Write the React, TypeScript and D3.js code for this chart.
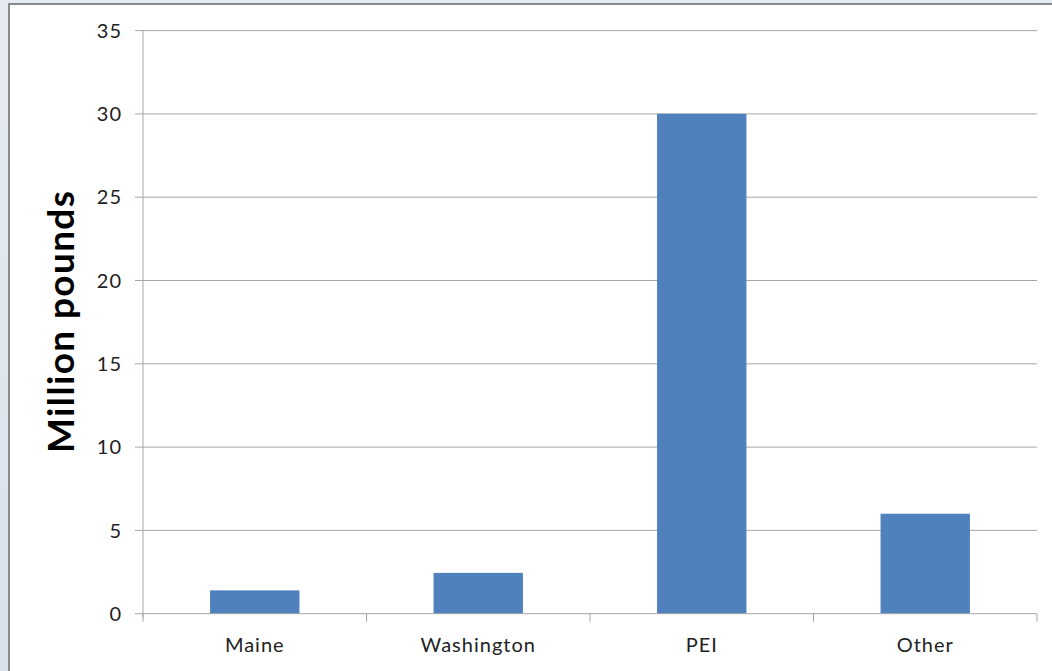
import React from "react";
import * as d3 from "d3";

const categories = ["Maine", "Washington", "PEI", "Other"];
const values = [1.4, 2.45, 30, 6];
const yTicks = [0, 5, 10, 15, 20, 25, 30, 35];
const yLabel = "Million pounds";

const W = 1052;
const H = 671;
const margin = { left: 143, right: 15, top: 30.6, bottom: 57.3 };

export default function App() {
  const x = d3
    .scaleBand<string>()
    .domain(categories)
    .range([margin.left, W - margin.right])
    .paddingInner(0.6)
    .paddingOuter(0.3);
  const y = d3
    .scaleLinear()
    .domain([0, 35])
    .range([H - margin.bottom, margin.top]);

  const x0 = margin.left;
  const x1 = W - margin.right;
  const y0 = y(0);
  const step = (x1 - x0) / categories.length;
  const font = "Lato, 'Open Sans', sans-serif";

  return (
    <svg
      width={W}
      height={H}
      style={{ position: "fixed", left: 0, top: 0, display: "block" }}
    >
      <defs>
        <linearGradient id="bgGrad" x1="0" y1="0" x2="0" y2="1">
          <stop offset="0" stopColor="#e6ebf1" />
          <stop offset="0.5" stopColor="#dfe6ee" />
          <stop offset="1" stopColor="#d8e0ea" />
        </linearGradient>
      </defs>
      <rect x={0} y={0} width={W} height={H} fill="url(#bgGrad)" />
      <rect x={9} y={4} width={W} height={H} fill="#ffffff" stroke="#8a8a8a" strokeWidth={2} />

      {/* horizontal gridlines and value ticks */}
      {yTicks.map((t) => (
        <g key={t}>
          <line x1={x0 - 8} x2={t === 0 ? x0 : x1} y1={y(t)} y2={y(t)} stroke="#a6a6a6" strokeWidth={1} />
          <text
            x={122}
            y={y(t)}
            dy="0.36em"
            textAnchor="end"
            fontFamily={font}
            fontSize={20}
            letterSpacing={1}
            fill="#222"
          >
            {t}
          </text>
        </g>
      ))}

      {/* bars */}
      {categories.map((c, i) => (
        <rect
          key={c}
          x={x(c)}
          y={y(values[i])}
          width={x.bandwidth()}
          height={y0 - y(values[i])}
          fill="#4f81bd"
        />
      ))}

      {/* axes */}
      <line x1={x0} x2={x0} y1={y(35)} y2={y0 + 4} stroke="#a6a6a6" strokeWidth={1} />
      <line x1={x0} x2={x1} y1={y0} y2={y0} stroke="#a6a6a6" strokeWidth={1} />
      {d3.range(categories.length + 1).map((i) => (
        <line
          key={i}
          x1={x0 + i * step}
          x2={x0 + i * step}
          y1={y0}
          y2={y0 + 8}
          stroke="#a6a6a6"
          strokeWidth={1}
        />
      ))}
      {categories.map((c) => (
        <text
          key={c}
          x={(x(c) ?? 0) + x.bandwidth() / 2}
          y={652}
          textAnchor="middle"
          fontFamily={font}
          fontSize={20}
          letterSpacing={1}
          fill="#222"
        >
          {c}
        </text>
      ))}

      <text
        transform={`translate(74, ${322}) rotate(-90)`}
        textAnchor="middle"
        fontFamily={font}
        fontWeight="bold"
        fontSize={37}
        textLength={262}
        lengthAdjust="spacing"
        fill="#000"
      >
        {yLabel}
      </text>
    </svg>
  );
}
